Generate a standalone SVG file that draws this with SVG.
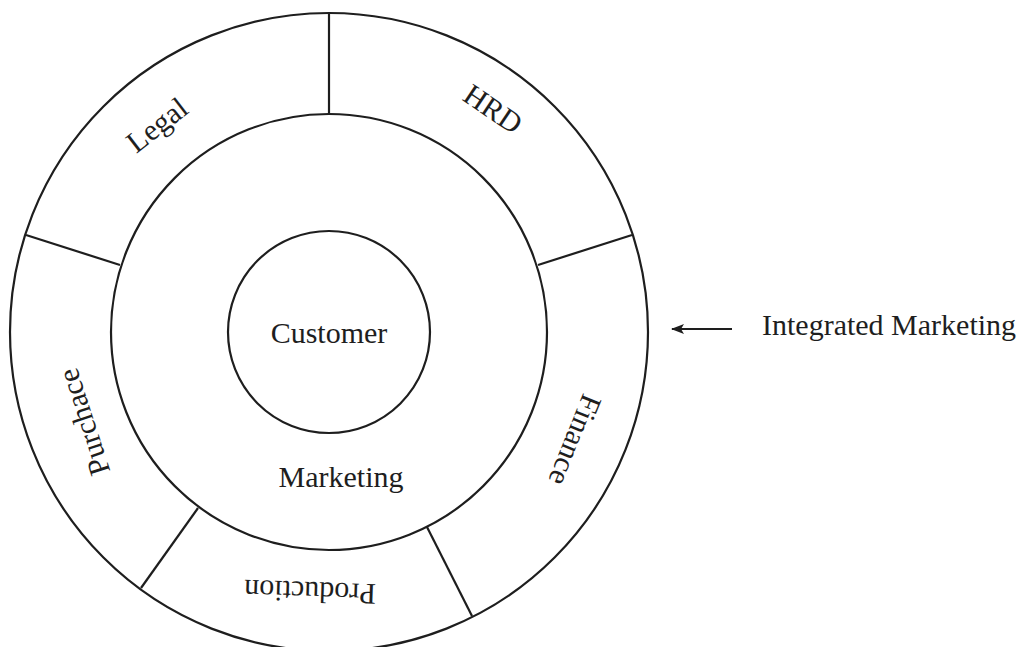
<svg xmlns="http://www.w3.org/2000/svg" width="1026" height="647" viewBox="0 0 1026 647">
<style>
.ring{fill:none;stroke:#1e1e1e;stroke-width:2.2}
.div{stroke:#1e1e1e;stroke-width:2.2}
text{font-family:"Liberation Serif","Times New Roman",serif;fill:#1e1e1e}
.big{font-size:30px}
.seg{font-size:30px;text-anchor:middle}
</style>
<defs>
<marker id="ah" markerWidth="13" markerHeight="10" refX="12" refY="5" orient="auto" markerUnits="userSpaceOnUse">
<path d="M0,0 L13,5 L0,10 L3,5 Z" fill="#1e1e1e"/>
</marker>
</defs>
<rect width="1026" height="647" fill="#ffffff"/>
<g id="integrated-marketing">
<circle class="ring" cx="329" cy="332" r="319"/>
</g>
<g id="marketing">
<circle class="ring" cx="329" cy="332" r="218"/>
<text class="big" x="341" y="487" text-anchor="middle">Marketing</text>
</g>
<g id="customer">
<circle class="ring" cx="329" cy="332" r="101"/>
<text class="big" x="329" y="343" text-anchor="middle">Customer</text>
</g>
<g id="connectors">
<line class="div" x1="329" y1="13" x2="329" y2="114"/>
<line class="div" x1="26" y1="235" x2="120" y2="265"/>
<line class="div" x1="632" y1="235" x2="538" y2="265"/>
<line class="div" x1="141" y1="588" x2="198" y2="508"/>
<line class="div" x1="472" y1="616" x2="427" y2="527"/>
<line class="div" x1="732" y1="329" x2="672" y2="329" marker-end="url(#ah)"/>
</g>
<g id="legal"><text class="seg" transform="translate(157,125) rotate(-38)" y="10">Legal</text></g>
<g id="hrd"><text class="seg" transform="translate(493,109) rotate(34)" y="10">HRD</text></g>
<g id="finance"><text class="seg" transform="translate(575,440) rotate(112)" y="10">Finance</text></g>
<g id="production"><text class="seg" transform="translate(310,592) rotate(182)" y="10">Production</text></g>
<g id="purchace"><text class="seg" transform="translate(84,422) rotate(-108)" y="10">Purchace</text></g>
<g id="label"><text class="big" x="762" y="335">Integrated Marketing</text></g>
</svg>
